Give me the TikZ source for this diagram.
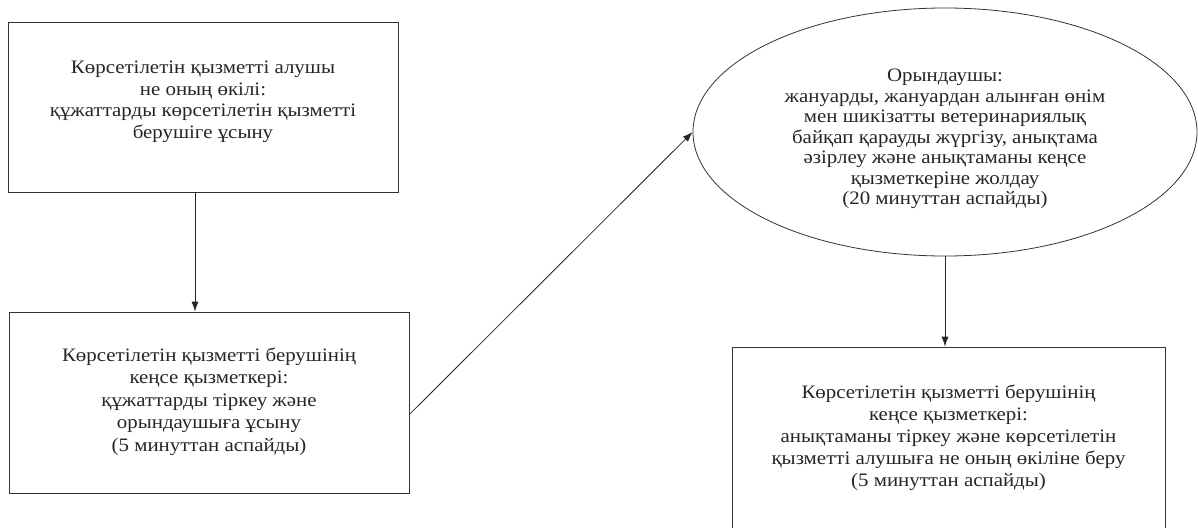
\documentclass[tikz,border=0pt]{standalone}
\usepackage{fontspec}
\setmainfont{Liberation Serif}[FakeStretch=1.1]
\usetikzlibrary{arrows.meta,shapes.geometric}

\begin{document}
\begin{tikzpicture}[x=1pt, y=-1pt,
		stepbox/.style={draw=black!80, line width=0.8pt, rectangle, inner sep=0pt},
		actor/.style={draw=black!80, line width=0.8pt, ellipse, inner sep=0pt},
		note/.style={align=center, text=black!85, inner sep=0pt, font=\fontsize{19}{22}\selectfont},
		flow/.style={draw=black!85, line width=0.8pt, -{Latex[length=10pt,width=7pt]}}]
			%%%%% START %%%%%
			\clip (0, 0) rectangle (1198, 527);
			\fill[white] (0, 0) rectangle (1198, 527);
			
			\node[stepbox, minimum width=390pt, minimum height=170pt] (recv) at (203, 107) {};
			\node[note, font=\fontsize{19}{21.5}\selectfont] (recvnote) at ([yshift=5pt]recv.center)
				{Көрсетілетін қызметті алушы\\ не оның өкілі:\\ құжаттарды көрсетілетін қызметті\\ берушіге ұсыну};
			
			\node[stepbox, minimum width=400pt, minimum height=181pt] (office) at (209, 402.5) {};
			\node[note, font=\fontsize{19}{22.5}\selectfont] (officenote) at ([yshift=1pt]office.center)
				{Көрсетілетін қызметті берушінің\\ кеңсе қызметкері:\\ құжаттарды тіркеу және\\ орындаушыға ұсыну\\ (5 минуттан аспайды)};
			
			\node[actor, minimum width=504pt, minimum height=248pt] (exec) at (945, 132) {};
			\node[note, font=\fontsize{19}{20.5}\selectfont] (execnote) at ([yshift=-7pt]exec.center)
				{Орындаушы:\\ жануарды, жануардан алынған өнім\\ мен шикізатты ветеринариялық\\ байқап қарауды жүргізу, анықтама\\ әзірлеу және анықтаманы кеңсе\\ қызметкеріне жолдау\\ (20 минуттан аспайды)};
			
			\node[stepbox, minimum width=433pt, minimum height=188pt] (issue) at (948.5, 441) {};
			\node[note] (issuenote) at ([yshift=3pt]issue.center)
				{Көрсетілетін қызметті берушінің\\ кеңсе қызметкері:\\ анықтаманы тіркеу және көрсетілетін\\ қызметті алушыға не оның өкіліне беру\\ (5 минуттан аспайды)};
			
			\draw[flow] ([xshift=-8pt]recv.south) -- ([xshift=-8pt]recv.south |- office.north);
			\draw[flow] ([yshift=-12pt]office.east) -- (exec.west);
			\draw[flow] (exec.south) -- (exec.south |- issue.north);
			
			%%%%% END %%%%%
		\end{tikzpicture}
\end{document}
